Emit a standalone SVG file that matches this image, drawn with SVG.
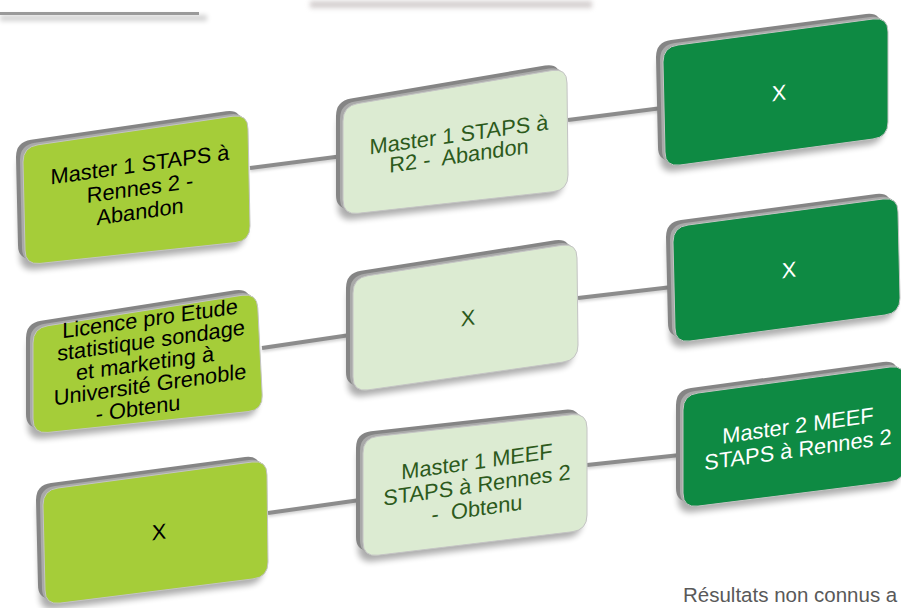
<svg xmlns="http://www.w3.org/2000/svg" xmlns:xlink="http://www.w3.org/1999/xlink" width="901" height="608" viewBox="0 0 901 608">
<style>
.shadow{fill:#000;opacity:.32;filter:url(#blur)}
.bevel1{fill:#858585}
.bevel2{fill:#a9a9a9}
.lime{fill:#a5cd39;stroke:#c4c4c4;stroke-width:1}
.pale{fill:#dcebd2;stroke:#c4c4c4;stroke-width:1}
.dark{fill:#0e8a43;stroke:#c4c4c4;stroke-width:1}
.t{font-family:"Liberation Sans",Arial,sans-serif;font-size:21.8px;text-anchor:middle}
.tk{fill:#000}
.tg{fill:#2c5a1c}
.tw{fill:#fff}
.conn{stroke:#8c8c8c;stroke-width:4;fill:none;stroke-linecap:butt}
.connsh{stroke:#000;stroke-width:4;opacity:.18;fill:none;filter:url(#blur2)}
</style>
<defs>
<filter id="blur" x="-20%" y="-20%" width="140%" height="140%"><feGaussianBlur stdDeviation="3"/></filter>
<filter id="blur2" x="-20%" y="-100%" width="140%" height="300%"><feGaussianBlur stdDeviation="1.5"/></filter>
<filter id="blur3" x="-20%" y="-200%" width="140%" height="500%"><feGaussianBlur stdDeviation="2.5"/></filter>
<path id="pA" d="M 38,144.8 L 233,116.2 Q 248,114 248,129 L 250,226 Q 250,241 235,242.6 L 40,263.4 Q 25,265 25,250 L 23,162 Q 23,147 38,144.8 Z"/>
<path id="pB" d="M 358,103.5 L 552,70.5 Q 567,68 567,83 L 568,175 Q 568,190 553,191.7 L 358,213.3 Q 343,215 343,200 L 343,121 Q 343,106 358,103.5 Z"/>
<path id="pC" d="M 678,45 L 873,19 Q 888,17 888,32 L 888,122 Q 888,137 873,139 L 680,165 Q 665,167 665,152 L 663,62 Q 663,47 678,45 Z"/>
<path id="pD" d="M 48,325.7 L 242,295.3 Q 257,293 257.8,308 L 262.2,395 Q 263,410 248,411.6 L 48,432.4 Q 33,434 33,419 L 33,343 Q 33,328 48,325.7 Z"/>
<path id="pE" d="M 368,275.7 L 562,245.3 Q 577,243 577,258 L 578,345 Q 578,360 563,362.1 L 368,389.9 Q 353,392 353,377 L 353,293 Q 353,278 368,275.7 Z"/>
<path id="pF" d="M 688,225 L 883,199 Q 898,197 898,212 L 900,298 Q 900,313 885,315 L 690,341 Q 675,343 675,328 L 673,242 Q 673,227 688,225 Z"/>
<path id="pG" d="M 58,488 L 252,462 Q 267,460 267,475 L 268,562 Q 268,577 253,578.9 L 60,603.1 Q 45,605 45,590 L 43,505 Q 43,490 58,488 Z"/>
<path id="pH" d="M 378,436.3 L 572,414.7 Q 587,413 587,428 L 587,515 Q 587,530 572,531.8 L 378,555.2 Q 363,557 363,542 L 363,453 Q 363,438 378,436.3 Z"/>
<path id="pI" d="M 698,393 L 890,367 Q 905,365 905,380 L 905,465 Q 905,480 890,481.9 L 698,506.1 Q 683,508 683,493 L 683,410 Q 683,395 698,393 Z"/>
</defs>

<g id="decor">
<rect x="0" y="15" width="207" height="6" fill="#000" opacity=".18" filter="url(#blur3)"/>
<rect x="0" y="12" width="199" height="3" fill="#9a9a9a"/>
<rect x="310" y="1" width="282" height="7" fill="#c9c2c2" opacity=".8" filter="url(#blur3)"/>
</g>

<g id="connectors">
<line class="connsh" x1="250" y1="170" x2="343" y2="158"/>
<line class="conn" x1="250" y1="168" x2="343" y2="156"/>
<line class="connsh" x1="568" y1="122" x2="662" y2="110"/>
<line class="conn" x1="568" y1="120" x2="662" y2="108"/>
<line class="connsh" x1="262" y1="350" x2="350" y2="337"/>
<line class="conn" x1="262" y1="348" x2="350" y2="335"/>
<line class="connsh" x1="578" y1="300" x2="672" y2="289"/>
<line class="conn" x1="578" y1="298" x2="672" y2="287"/>
<line class="connsh" x1="268" y1="515" x2="360" y2="502"/>
<line class="conn" x1="268" y1="513" x2="360" y2="500"/>
<line class="connsh" x1="587" y1="467" x2="680" y2="457"/>
<line class="conn" x1="587" y1="465" x2="680" y2="455"/>
</g>

<g id="nodeA">
<use xlink:href="#pA" class="shadow" transform="translate(-5,6)"/>
<use xlink:href="#pA" class="bevel1" transform="translate(-7,-5)"/>
<use xlink:href="#pA" class="bevel2" transform="translate(-3,-2)"/>
<use xlink:href="#pA" class="lime"/>
<g transform="translate(140,0) skewY(-8)"><text class="t tk"><tspan x="0" y="172">Master 1 STAPS à</tspan><tspan x="0" y="195.5">Rennes 2 -</tspan><tspan x="0" y="219">Abandon</tspan></text></g>
</g>

<g id="nodeB">
<use xlink:href="#pB" class="shadow" transform="translate(-5,6)"/>
<use xlink:href="#pB" class="bevel1" transform="translate(-7,-5)"/>
<use xlink:href="#pB" class="bevel2" transform="translate(-3,-2)"/>
<use xlink:href="#pB" class="pale"/>
<g transform="translate(459,0) skewY(-8)"><text class="t tg"><tspan x="0" y="142">Master 1 STAPS à</tspan><tspan x="0" y="163">R2 -&#160; Abandon</tspan></text></g>
</g>

<g id="nodeC">
<use xlink:href="#pC" class="shadow" transform="translate(-5,6)"/>
<use xlink:href="#pC" class="bevel1" transform="translate(-7,-5)"/>
<use xlink:href="#pC" class="bevel2" transform="translate(-3,-2)"/>
<use xlink:href="#pC" class="dark"/>
<g transform="translate(779,0) skewY(-8)"><text class="t tw" x="0" y="100.5">X</text></g>
</g>

<g id="nodeD">
<use xlink:href="#pD" class="shadow" transform="translate(-5,6)"/>
<use xlink:href="#pD" class="bevel1" transform="translate(-7,-5)"/>
<use xlink:href="#pD" class="bevel2" transform="translate(-3,-2)"/>
<use xlink:href="#pD" class="lime"/>
<g transform="translate(150,0) skewY(-8)"><text class="t tk"><tspan x="0" y="326">Licence pro Etude</tspan><tspan x="1" y="348">statistique sondage</tspan><tspan x="-5" y="370">et marketing à</tspan><tspan x="0" y="392">Université Grenoble</tspan><tspan x="-12" y="414">- Obtenu</tspan></text></g>
</g>

<g id="nodeE">
<use xlink:href="#pE" class="shadow" transform="translate(-5,6)"/>
<use xlink:href="#pE" class="bevel1" transform="translate(-7,-5)"/>
<use xlink:href="#pE" class="bevel2" transform="translate(-3,-2)"/>
<use xlink:href="#pE" class="pale"/>
<g transform="translate(468,0) skewY(-8)"><text class="t tg" x="0" y="325.5">X</text></g>
</g>

<g id="nodeF">
<use xlink:href="#pF" class="shadow" transform="translate(-5,6)"/>
<use xlink:href="#pF" class="bevel1" transform="translate(-7,-5)"/>
<use xlink:href="#pF" class="bevel2" transform="translate(-3,-2)"/>
<use xlink:href="#pF" class="dark"/>
<g transform="translate(789,0) skewY(-8)"><text class="t tw" x="0" y="277.5">X</text></g>
</g>

<g id="nodeG">
<use xlink:href="#pG" class="shadow" transform="translate(-5,6)"/>
<use xlink:href="#pG" class="bevel1" transform="translate(-7,-5)"/>
<use xlink:href="#pG" class="bevel2" transform="translate(-3,-2)"/>
<use xlink:href="#pG" class="lime"/>
<g transform="translate(159,0) skewY(-8)"><text class="t tk" x="0" y="539.5">X</text></g>
</g>

<g id="nodeH">
<use xlink:href="#pH" class="shadow" transform="translate(-5,6)"/>
<use xlink:href="#pH" class="bevel1" transform="translate(-7,-5)"/>
<use xlink:href="#pH" class="bevel2" transform="translate(-3,-2)"/>
<use xlink:href="#pH" class="pale"/>
<g transform="translate(477,0) skewY(-8)"><text class="t tg"><tspan x="0" y="469">Master 1 MEEF</tspan><tspan x="0" y="492.5">STAPS à Rennes 2</tspan><tspan x="0" y="516">-&#160; Obtenu</tspan></text></g>
</g>

<g id="nodeI">
<use xlink:href="#pI" class="shadow" transform="translate(-5,6)"/>
<use xlink:href="#pI" class="bevel1" transform="translate(-7,-5)"/>
<use xlink:href="#pI" class="bevel2" transform="translate(-3,-2)"/>
<use xlink:href="#pI" class="dark"/>
<g transform="translate(798,0) skewY(-8)"><text class="t tw"><tspan x="0" y="433">Master 2 MEEF</tspan><tspan x="0" y="457">STAPS à Rennes 2</tspan></text></g>
</g>

<text id="footer" x="683" y="602" font-family="Liberation Sans, Arial, sans-serif" font-size="20.5" fill="#595959">Résultats non connus a</text>
</svg>
